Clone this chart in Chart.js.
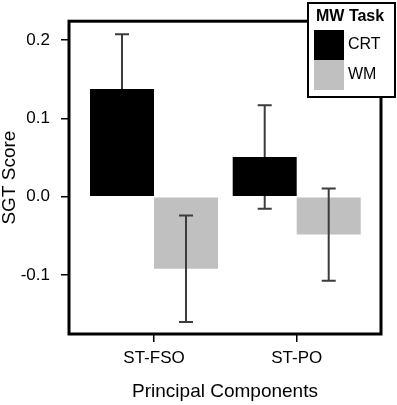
<!DOCTYPE html>
<html>
<head>
<meta charset="utf-8">
<script src="https://cdn.jsdelivr.net/npm/chart.js@4.4.0/dist/chart.umd.min.js"></script>
<style>
  html, body { margin: 0; padding: 0; background: #fff; }
  canvas { display: block; }
</style>
</head>
<body>
<canvas id="chart" width="397" height="405"></canvas>
<script>
// data
const categories = ['ST-FSO', 'ST-PO']
const crtValues = [0.1376, 0.0508]
const crtErrors = [0.070, 0.066]
const wmValues = [-0.0919, -0.0483]
const wmErrors = [0.068, 0.059]
const yTicks = [-0.1, 0.0, 0.1, 0.2]
const legendTitle = 'MW Task'

const FONT = "'Liberation Sans', Arial, sans-serif"
const colors = ['#000000', '#c0c0c0']

// frame round the plot area
const framePlugin = {
  id: 'frame',
  afterDatasetsDraw(chart) {
    const { ctx, chartArea: a } = chart
    ctx.save()
    ctx.strokeStyle = '#000'
    ctx.lineWidth = 3
    ctx.strokeRect(a.left, a.top, a.right - a.left, a.bottom - a.top)
    ctx.restore()
  },
}

// error bars, drawn after the grey bars but under the black ones
const errorBarPlugin = {
  id: 'errorBars',
  afterDatasetDraw(chart, args) {
    if (args.index !== 1) return
    const { ctx } = chart
    const yScale = chart.scales.y
    ctx.save()
    ctx.strokeStyle = '#3c3c3c'
    ctx.lineWidth = 2
    chart.data.datasets.forEach((ds, i) => {
      const meta = chart.getDatasetMeta(i)
      meta.data.forEach((bar, j) => {
        const v = ds.data[j].y
        const e = ds.errors[j]
        const yTop = yScale.getPixelForValue(v + e)
        const yBot = yScale.getPixelForValue(v - e)
        const half = 7
        ctx.beginPath()
        ctx.moveTo(bar.x, yTop)
        ctx.lineTo(bar.x, yBot)
        ctx.moveTo(bar.x - half, yTop)
        ctx.lineTo(bar.x + half, yTop)
        ctx.moveTo(bar.x - half, yBot)
        ctx.lineTo(bar.x + half, yBot)
        ctx.stroke()
      })
    })
    ctx.restore()
  },
}

// boxed legend in the top right corner
const boxLegendPlugin = {
  id: 'boxLegend',
  afterDraw(chart) {
    const { ctx } = chart
    const x = 308, y = 3, w = 87, h = 94
    ctx.save()
    ctx.fillStyle = '#fff'
    ctx.fillRect(x, y, w, h)
    ctx.strokeStyle = '#000'
    ctx.lineWidth = 2
    ctx.strokeRect(x, y, w, h)

    ctx.fillStyle = '#000'
    ctx.textBaseline = 'middle'
    ctx.textAlign = 'left'
    ctx.font = 'bold 16px ' + FONT
    ctx.fillText(legendTitle, x + 8, y + 14)

    ctx.font = '16px ' + FONT
    chart.data.datasets.forEach((ds, i) => {
      const sy = 30 + i * 30
      ctx.fillStyle = ds.backgroundColor
      ctx.fillRect(314, sy, 30, 30)
      ctx.fillStyle = '#000'
      ctx.fillText(ds.label, 348, sy + 15)
    })
    ctx.restore()
  },
}

const toPoints = (vals) => vals.map((v, i) => ({ x: i, y: v }))

new Chart(document.getElementById('chart'), {
  type: 'bar',
  data: {
    datasets: [
      {
        label: 'CRT',
        data: toPoints(crtValues),
        errors: crtErrors,
        backgroundColor: colors[0],
        borderWidth: 0,
        categoryPercentage: 0.897,
        barPercentage: 1,
      },
      {
        label: 'WM',
        data: toPoints(wmValues),
        errors: wmErrors,
        backgroundColor: colors[1],
        borderWidth: 0,
        categoryPercentage: 0.897,
        barPercentage: 1,
      },
    ],
  },
  plugins: [framePlugin, errorBarPlugin, boxLegendPlugin],
  options: {
    responsive: false,
    animation: false,
    layout: {
      padding: { left: 0, top: 19.5, right: 16, bottom: 0 },
    },
    plugins: {
      legend: { display: false },
      tooltip: { enabled: false },
    },
    scales: {
      x: {
        type: 'linear',
        offset: false,
        min: -0.5957,
        max: 1.5907,
        afterBuildTicks(scale) {
          scale.ticks = categories.map((c, i) => ({ value: i }))
        },
        afterFit(scale) {
          scale.height = 71
        },
        border: { display: false },
        grid: {
          offset: false,
          drawOnChartArea: false,
          tickLength: 8,
          tickColor: '#000',
          lineWidth: 1.5,
        },
        ticks: {
          color: '#000',
          padding: 6,
          maxRotation: 0,
          font: { family: FONT, size: 17 },
          callback: (v) => categories[v],
        },
        title: {
          display: true,
          text: 'Principal Components',
          color: '#000',
          font: { family: FONT, size: 19 },
          padding: { top: 0, bottom: 2 },
        },
      },
      y: {
        min: -0.1753,
        max: 0.2243,
        afterBuildTicks(scale) {
          scale.ticks = yTicks.map((v) => ({ value: v }))
        },
        afterFit(scale) {
          scale.width = 69
        },
        border: { display: false },
        grid: {
          drawOnChartArea: false,
          tickLength: 8,
          tickColor: '#000',
          lineWidth: 1.5,
        },
        ticks: {
          color: '#000',
          padding: 11,
          font: { family: FONT, size: 17 },
          callback: (v) => v.toFixed(1),
        },
        title: {
          display: true,
          text: 'SGT Score',
          color: '#000',
          font: { family: FONT, size: 19, lineHeight: 1 },
          padding: { top: 0, bottom: 0 },
        },
      },
    },
  },
})
</script>
</body>
</html>
